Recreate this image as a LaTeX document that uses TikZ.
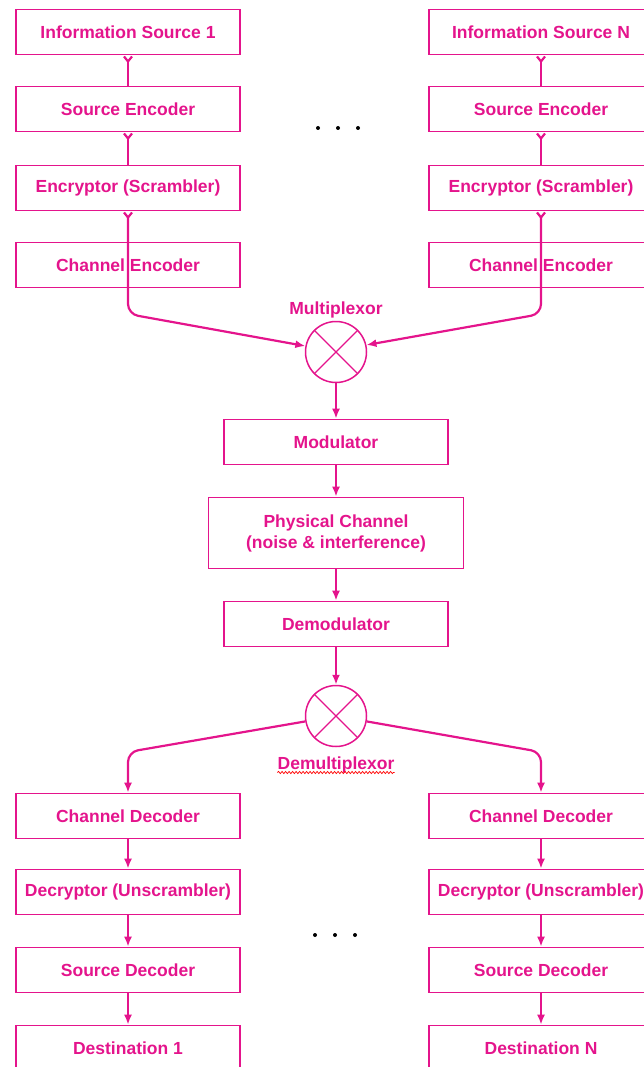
\documentclass[tikz,border=0pt]{standalone}
\usepackage{fontspec}
\setmainfont{Liberation Sans}
\usetikzlibrary{arrows.meta,decorations.pathmorphing}
\definecolor{pinkish}{RGB}{228,20,140}
\newlength{\decwd}
\newlength{\decfullwd}

\begin{document}
\begin{tikzpicture}[x=1pt,y=-1pt,
    box/.style={draw=pinkish,line width=1.7pt,minimum width=224pt,minimum height=45pt,inner sep=1pt,text=pinkish,font=\bfseries\fontsize{17.5}{21}\selectfont},
    flow/.style={draw=pinkish,line width=2.2pt},
    mixer/.style={circle,draw=pinkish,line width=1.5pt,minimum size=61pt,inner sep=0pt},
    tag/.style={text=pinkish,inner sep=0pt,font=\bfseries\fontsize{17.5}{21}\selectfont},
    squiggle/.style={red,line width=0.7pt,decorate,decoration={snake,amplitude=1.1pt,segment length=3.5pt}},
    vtail/.style={{Straight Barb[reversed,length=5pt,width=8pt]}-},
    tip/.style={-{Latex[length=10pt,width=8pt]}}]
    \useasboundingbox (0,0) rectangle (643,1067);
    \settowidth{\decwd}{\bfseries\fontsize{17.5}{21}\selectfont Decryptor}
    \settowidth{\decfullwd}{\bfseries\fontsize{17.5}{21}\selectfont Decryptor (Unscrambler)}

    % senders
    \node[box] (src1) at (128,32) {Information Source 1};
    \node[box] (senc1) at (128,109) {Source Encoder};
    \node[box] (enc1) at (128,188) {Encryptor (Scrambler)};
    \node[box] (cenc1) at (128,265) {Channel Encoder};
    \node[box] (srcN) at (541,32) {Information Source N};
    \node[box] (sencN) at (541,109) {Source Encoder};
    \node[box] (encN) at (541,188) {Encryptor (Scrambler)};
    \node[box] (cencN) at (541,265) {Channel Encoder};
    \foreach \x in {318,338,358} \fill (\x,128) circle (2pt);

    % middle chain
    \node[mixer] (mux) at (336,352) {};
    \node[tag] (muxtag) at (336,310) {Multiplexor};
    \node[box] (mod) at (336,442) {Modulator};
    \node[box,minimum width=255pt,minimum height=71pt,align=center] (phys) at (336,533) {Physical Channel\\(noise \& interference)};
    \node[box] (demod) at (336,624) {Demodulator};
    \node[mixer] (demux) at (336,716) {};
    \node[tag] (demuxtag) at (336,765) {Demultiplexor};
    \draw[pinkish,line width=1.3pt] (mux.45) -- (mux.225) (mux.135) -- (mux.315);
    \draw[pinkish,line width=1.3pt] (demux.45) -- (demux.225) (demux.135) -- (demux.315);
    \draw[squiggle] ([yshift=-3pt]demuxtag.base west) -- ([yshift=-3pt]demuxtag.base east);

    % receivers
    \node[box] (cdec1) at (128,816) {Channel Decoder};
    \node[box] (dec1) at (128,892) {Decryptor (Unscrambler)};
    \node[box] (sdec1) at (128,970) {Source Decoder};
    \node[box] (dst1) at (128,1048) {Destination 1};
    \node[box] (cdecN) at (541,816) {Channel Decoder};
    \node[box] (decN) at (541,892) {Decryptor (Unscrambler)};
    \node[box] (sdecN) at (541,970) {Source Decoder};
    \node[box] (dstN) at (541,1048) {Destination N};
    \foreach \x in {315,335,355} \fill (\x,935) circle (2pt);
    \foreach \d in {dec1,decN}
      \draw[squiggle] ([xshift=-0.5\decfullwd,yshift=-3pt]\d.base) -- ([xshift=-0.5\decfullwd+\decwd,yshift=-3pt]\d.base);

    \draw[flow,vtail] (src1) -- (senc1);
    \draw[flow,vtail] (senc1) -- (enc1);
    \draw[flow,vtail] (srcN) -- (sencN);
    \draw[flow,vtail] (sencN) -- (encN);
    \draw[flow,rounded corners=10pt,{Straight Barb[reversed,length=5pt,width=8pt]}-{Latex[length=10pt,width=8pt]}] (enc1.south) -- (128,314) -- (mux.169);
    \draw[flow,rounded corners=10pt,{Straight Barb[reversed,length=5pt,width=8pt]}-{Latex[length=10pt,width=8pt]}] (encN.south) -- (541,314) -- (mux.13);
    \draw[flow,tip] (mux) -- (mod);
    \draw[flow,tip] (mod) -- (phys);
    \draw[flow,tip] (phys) -- (demod);
    \draw[flow,tip] (demod) -- (demux);
    \draw[flow,tip,rounded corners=10pt] (demux.190) -- (128,752) -- (cdec1.north);
    \draw[flow,tip,rounded corners=10pt] (demux.350) -- (541,752) -- (cdecN.north);
    \draw[flow,tip] (cdec1) -- (dec1);
    \draw[flow,tip] (dec1) -- (sdec1);
    \draw[flow,tip] (sdec1) -- (dst1);
    \draw[flow,tip] (cdecN) -- (decN);
    \draw[flow,tip] (decN) -- (sdecN);
    \draw[flow,tip] (sdecN) -- (dstN);
\end{tikzpicture}
\end{document}
